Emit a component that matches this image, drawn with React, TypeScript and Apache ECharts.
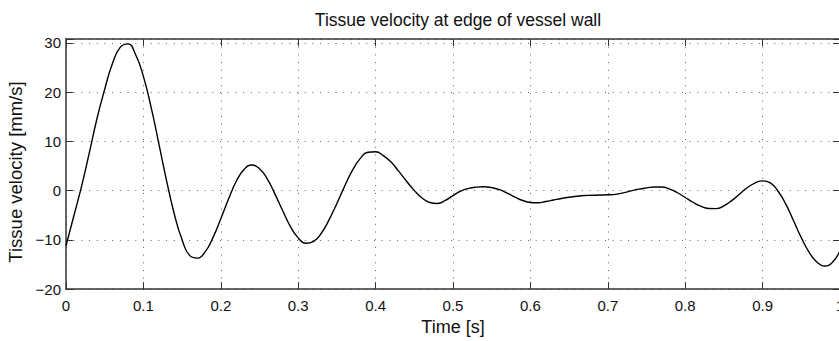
import React, { useEffect, useRef } from "react";
import * as echarts from "echarts";

const titleText = "Tissue velocity at edge of vessel wall";
const xName = "Time [s]";
const yName = "Tissue velocity [mm/s]";

const timeS = [
  0.0, 0.01, 0.02, 0.03, 0.04, 0.05, 0.06, 0.07, 0.08, 0.09,
  0.1, 0.11, 0.12, 0.13, 0.14, 0.15, 0.16, 0.17, 0.18, 0.19,
  0.2, 0.21, 0.22, 0.23, 0.24, 0.25, 0.26, 0.27, 0.28, 0.29,
  0.3, 0.31, 0.32, 0.33, 0.34, 0.35, 0.36, 0.37, 0.38, 0.39,
  0.4, 0.41, 0.42, 0.43, 0.44, 0.45, 0.46, 0.47, 0.48, 0.49,
  0.5, 0.51, 0.52, 0.53, 0.54, 0.55, 0.56, 0.57, 0.58, 0.59,
  0.6, 0.61, 0.62, 0.63, 0.64, 0.65, 0.66, 0.67, 0.68, 0.69,
  0.7, 0.71, 0.72, 0.73, 0.74, 0.75, 0.76, 0.77, 0.78, 0.79,
  0.8, 0.81, 0.82, 0.83, 0.84, 0.85, 0.86, 0.87, 0.88, 0.89,
  0.9, 0.91, 0.92, 0.93, 0.94, 0.95, 0.96, 0.97, 0.98, 0.99,
  1.0,
];

const velocityMmS = [
  -11.2, -5.2, 0.8, 7.6, 14.6, 20.6, 25.8, 29.1, 29.8, 27.6,
  23.2, 16.9, 9.5, 2.0, -4.8, -10.0, -13.2, -13.7, -12.4, -9.5,
  -5.7, -1.7, 1.9, 4.3, 5.2, 4.45, 2.4, -0.7, -4.1, -7.3,
  -9.6, -10.7, -10.3, -8.6, -5.9, -2.6, 0.9, 4.1, 6.5, 7.8,
  7.9, 7.1, 5.8, 3.9, 1.9, 0.05, -1.5, -2.4, -2.6, -2.0,
  -1.0, -0.1, 0.45, 0.72, 0.8, 0.6, 0.2, -0.5, -1.3, -2.0,
  -2.4, -2.45, -2.2, -1.9, -1.6, -1.35, -1.15, -1.0, -0.95, -0.9,
  -0.85, -0.75, -0.45, -0.05, 0.3, 0.55, 0.75, 0.75, 0.32, -0.43,
  -1.4, -2.36, -3.16, -3.62, -3.65, -3.09, -2.03, -0.72, 0.58, 1.54,
  1.99, 1.57, -0.13, -2.74, -6.13, -9.55, -12.5, -14.5, -15.3, -14.6,
  -12.2,
];

const xTicks = [0, 0.1, 0.2, 0.3, 0.4, 0.5, 0.6, 0.7, 0.8, 0.9, 1];
const yTicks = [-20, -10, 0, 10, 20, 30];

const FONT = "'Liberation Sans', Arial, Helvetica, sans-serif";
const AXIS_COLOR = "#333";
const GRID_COLOR = "#666";

export default function App() {
  const ref = useRef<HTMLDivElement>(null);

  useEffect(() => {
    if (!ref.current) return;
    const chart = echarts.init(ref.current, null, { renderer: "svg" });
    const pts = timeS.map((t, i) => [t, velocityMmS[i]]);

    const fmtX = (v: number) => {
      const hit = xTicks.find((t) => Math.abs(t - v) < 1e-6);
      if (hit === undefined) return "";
      return hit === 0 ? "0" : hit === 1 ? "1" : hit.toFixed(1);
    };
    const fmtY = (v: number) => {
      const hit = yTicks.find((t) => Math.abs(t - v) < 1e-6);
      if (hit === undefined) return "";
      return hit < 0 ? "\u2212" + Math.abs(hit) : String(hit);
    };

    const tickStyle = { show: true, inside: true, length: 7, lineStyle: { color: AXIS_COLOR, width: 1 } };
    const lineStyleAxis = { show: true, onZero: false, lineStyle: { color: AXIS_COLOR, width: 1.5 } };

    chart.setOption({
      animation: false,
      backgroundColor: "#fff",
      title: {
        text: titleText,
        left: 453,
        textAlign: "center",
        top: 6,
        textStyle: { fontFamily: FONT, fontSize: 17.5, fontWeight: "normal", color: "#111" },
      },
      graphic: [
        {
          type: "text",
          x: 15,
          y: 172,
          rotation: Math.PI / 2,
          silent: true,
          style: {
            text: yName,
            fontFamily: FONT,
            fontSize: 18.5,
            fill: "#111",
            align: "center",
            verticalAlign: "middle",
            textAlign: "center",
            textVerticalAlign: "middle",
          },
        },
      ],
      grid: { left: 66, top: 39, width: 774, height: 257.4, containLabel: false },
      xAxis: [
        {
          type: "value",
          min: 0,
          max: 1,
          interval: 0.1,
          position: "bottom",
          name: xName,
          nameLocation: "middle",
          nameGap: 21,
          nameTextStyle: { fontFamily: FONT, fontSize: 18, color: "#111" },
          axisLine: lineStyleAxis,
          axisTick: tickStyle,
          axisLabel: { formatter: fmtX, fontFamily: FONT, fontSize: 15, color: "#111", margin: 9 },
          splitLine: { show: true, lineStyle: { color: GRID_COLOR, width: 1, type: [1, 6.7] } },
        },
        {
          type: "value",
          min: 0,
          max: 1,
          interval: 0.1,
          position: "top",
          axisLine: lineStyleAxis,
          axisTick: tickStyle,
          axisLabel: { show: false },
          splitLine: { show: false },
        },
      ],
      yAxis: [
        {
          type: "value",
          min: -20,
          max: 30.8,
          interval: 10,
          position: "left",
          axisLine: lineStyleAxis,
          axisTick: tickStyle,
          axisLabel: { formatter: fmtY, fontFamily: FONT, fontSize: 15, color: "#111", margin: 5 },
          splitLine: { show: true, lineStyle: { color: GRID_COLOR, width: 1, type: [1, 6.7] } },
        },
        {
          type: "value",
          min: -20,
          max: 30.8,
          interval: 10,
          position: "right",
          axisLine: lineStyleAxis,
          axisTick: tickStyle,
          axisLabel: { show: false },
          splitLine: { show: false },
        },
      ],
      series: [
        {
          type: "line",
          data: pts,
          smooth: 0.5,
          showSymbol: false,
          symbol: "none",
          lineStyle: { color: "#000", width: 1.4 },
          xAxisIndex: 0,
          yAxisIndex: 0,
        },
      ],
    });

    return () => chart.dispose();
  }, []);

  return (
    <div style={{ position: "fixed", left: 0, top: 0, width: 839, height: 341, overflow: "hidden", background: "#fff" }}>
      <div ref={ref} style={{ width: 860, height: 341 }} />
    </div>
  );
}
